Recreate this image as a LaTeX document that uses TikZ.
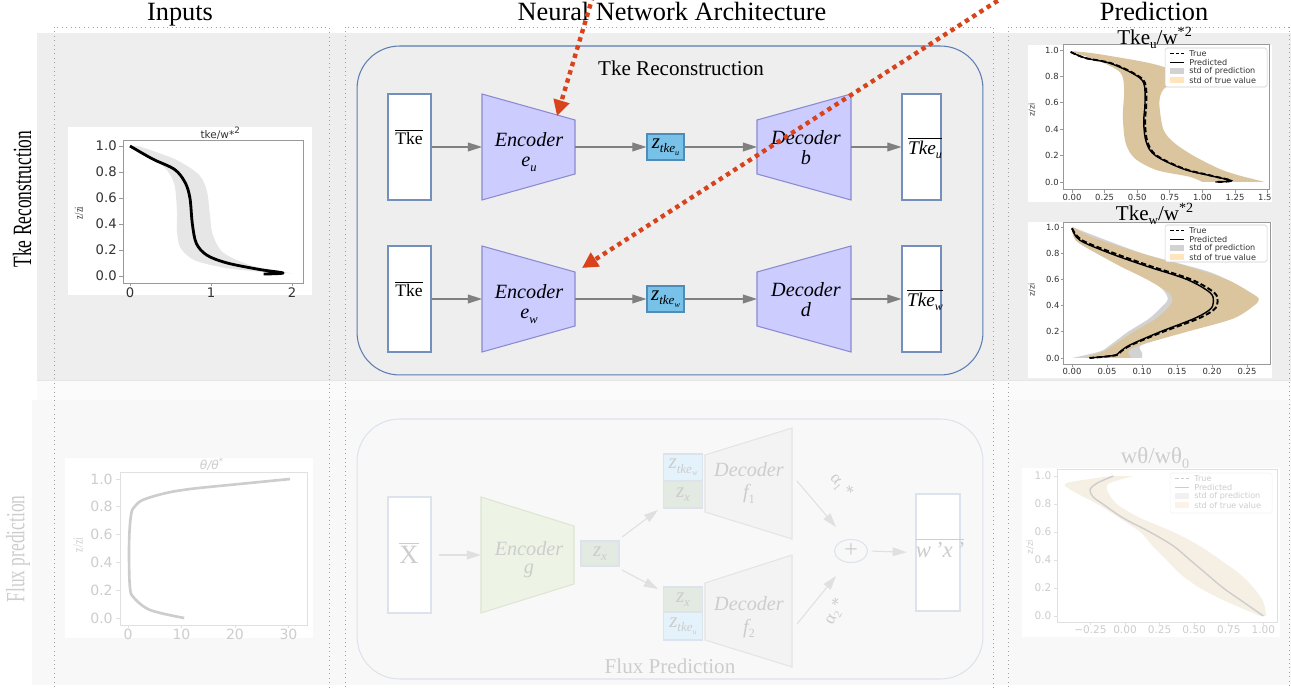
\documentclass[tikz,border=0pt]{standalone}
\usepackage{fontspec}
\setmainfont{Liberation Serif}
\newfontfamily\pf{DejaVu Sans}
\usetikzlibrary{arrows.meta,shapes.geometric}

\definecolor{bandgray}{HTML}{EEEEEE}
\definecolor{bandfaint}{HTML}{FBFBFB}
\definecolor{bandlite}{HTML}{F8F8F8}
\definecolor{colframe}{HTML}{A0A0A0}
\definecolor{rredge}{HTML}{5B7DB1}
\definecolor{encfill}{HTML}{CCCCFF}
\definecolor{encdraw}{HTML}{8A8AD0}
\definecolor{zfill}{HTML}{78C2EA}
\definecolor{zdraw}{HTML}{4F8DB8}
\definecolor{boxdraw}{HTML}{7390BD}
\definecolor{arrgray}{HTML}{808080}
\definecolor{redarr}{HTML}{D8431B}
\definecolor{fade}{HTML}{CDCDCD}
\definecolor{fadeline}{HTML}{E0E0E0}
\definecolor{fadeedge}{HTML}{DDE3EC}
\definecolor{fgreen}{HTML}{EDF3E5}
\definecolor{fgreenD}{HTML}{DCE6D3}
\definecolor{fzx}{HTML}{E3EAE1}
\definecolor{fzt}{HTML}{E4F2FB}
\definecolor{fdec}{HTML}{F3F3F3}
\definecolor{fdecD}{HTML}{E4E4E4}
\definecolor{tanband}{HTML}{DBC59E}
\definecolor{grayband}{HTML}{D2D2D2}
\definecolor{lightband}{HTML}{E6E6E6}
\definecolor{legtxt}{HTML}{333333}
\definecolor{legorange}{HTML}{FFE4BC}
\definecolor{legfgray}{HTML}{F1F1F1}
\definecolor{legforange}{HTML}{FCF3E6}
\definecolor{fband}{HTML}{F6EFE4}
\definecolor{axgray}{HTML}{999999}

\newcommand\lowsub[1]{\raisebox{-0.45ex}{\scalebox{0.62}{#1}}}
\newcommand\setfs[1]{\fontsize{#1}{#1}\selectfont}

% legend: x0 y0 x1 y1 linecolor textcolor graypatch orangepatch name
\newcommand\plotlegend[9]{%
  \draw[draw=#6!25, fill=white, line width=0.3pt, rounded corners=1pt] (#1,#2) rectangle (#3,#4);
  \draw[#5, line width=0.9pt, dash pattern=on 2pt off 1.2pt] (#1+5,#2+5.5) -- (#1+19,#2+5.5);
  \draw[#5, line width=0.7pt] (#1+5,#2+14.5) -- (#1+19,#2+14.5);
  \fill[#7] (#1+5,#2+20.5) rectangle (#1+19,#2+26.5);
  \fill[#8] (#1+5,#2+29.5) rectangle (#1+19,#2+35.5);
  \node[legtext, text=#6] (#9a) at (#1+24,#2+5.5) {True};
  \node[legtext, text=#6] (#9b) at (#1+24,#2+14.5) {Predicted};
  \node[legtext, text=#6] (#9c) at (#1+24,#2+23.5) {std of prediction};
  \node[legtext, text=#6] (#9d) at (#1+24,#2+32.5) {std of true value};
}

\begin{document}
\begin{tikzpicture}[x=0.02cm,y=-0.02cm,
  coltitle/.style={font=\setfs{15}, anchor=base, inner sep=0},
  rowlab/.style={font=\setfs{15}, rotate=90, inner sep=0},
  inbox/.style={draw=boxdraw, fill=white, line width=0.6pt, inner sep=0},
  encshape/.style={draw=encdraw, fill=encfill, line width=0.6pt},
  nnlab/.style={font=\setfs{11.5}\itshape, anchor=base, inner sep=0},
  seclab/.style={font=\setfs{12}, anchor=base, inner sep=0},
  zbox/.style={draw=zdraw, fill=zfill, line width=0.6pt, minimum width=0.74cm, minimum height=0.52cm, inner sep=0, font=\setfs{12}\itshape},
  arr/.style={draw=arrgray, line width=0.6pt, -{Triangle[length=8pt,width=5pt]}},
  farr/.style={draw=fadeline, line width=0.6pt, -{Triangle[length=8pt,width=5pt]}},
  redptr/.style={draw=redarr, line width=2.5pt, dash pattern=on 2.5pt off 2.4pt, -{Triangle[length=9pt,width=9pt]}},
  rrect/.style={line width=0.6pt, rounded corners=0.85cm, inner sep=0},
  fbox/.style={draw=fadeedge, line width=0.6pt, inner sep=0, text=fade, font=\setfs{12}\itshape, minimum width=0.78cm},
  fenc/.style={draw=fgreenD, fill=fgreen, line width=0.6pt},
  fdecs/.style={draw=fdecD, fill=fdec, line width=0.6pt},
  legtext/.style={font=\pf\setfs{4.6}, anchor=west, inner sep=0, text=legtxt},
  tick/.style={draw=axgray, line width=0.4pt},
  axframe/.style={draw=axgray, line width=0.5pt},
  ftick/.style={draw=fadeline, line width=0.4pt},
  faxframe/.style={draw=fadeline, line width=0.5pt}
]
\useasboundingbox (0,0) rectangle (1291,688);
\fill[white] (0,0) rectangle (1291,688);

% ---------- background bands ----------
\fill[bandgray] (37,33) rectangle (1291,380);
\fill[bandfaint] (37,380) rectangle (1291,400);
\fill[bandlite] (32,400) rectangle (1291,685);
\draw[lightband, line width=0.4pt] (37,380.5) -- (1291,380.5);

% ---------- column frames ----------
\draw[colframe, dotted, line width=0.5pt] (54,700) -- (54,27) -- (329,27) -- (329,700);
\draw[colframe, dotted, line width=0.5pt] (345,700) -- (345,27) -- (993,27) -- (993,700);
\draw[colframe, dotted, line width=0.5pt] (1008,700) -- (1008,27) -- (1289,27) -- (1289,700);

% ---------- titles ----------
\node[coltitle] (tInputs) at (180,21) {Inputs};
\node[coltitle] (tNN) at (672,21) {Neural Network Architecture};
\node[coltitle] (tPred) at (1154,21) {Prediction};
\node[rowlab] (rTke) at (22,199) {\scalebox{0.66}[1]{Tke Reconstruction}};
\node[rowlab, text=fade] (rFlux) at (18,549) {\scalebox{0.66}[1]{Flux prediction}};

% ---------- Tke reconstruction network ----------
\node[rrect, draw=rredge, minimum width=12.52cm, minimum height=6.58cm] (frameT) at (670,210.5) {};
\node[seclab] (lblT) at (681,76) {Tke Reconstruction};

\foreach \r/\dy/\s/\dec in {U/0/u/b, W/152/w/d}{
  \node[inbox, minimum width=0.86cm, minimum height=2.12cm] (in\r) at (409.5,147+\dy) {};
  \node[font=\setfs{10}, inner sep=0] (in\r-t) at (409,137+\dy) {$\overline{\hbox{Tke}}$};
  \draw[encshape] (482,94+\dy) -- (575,120+\dy) -- (575,174+\dy) -- (482,200+\dy) -- cycle;
  \coordinate (enc\r-w) at (482,147+\dy);
  \coordinate (enc\r-e) at (575,147+\dy);
  \node[nnlab] (enc\r-a) at (529,147+\dy) {Encoder};
  \node[nnlab] (enc\r-b) at (529,167+\dy) {e\lowsub{\s}};
  \node[zbox] (z\r) at (665.5,147+\dy) {z\lowsub{tke\lowsub{\s}}};
  \draw[encshape] (757,120+\dy) -- (851,94+\dy) -- (851,200+\dy) -- (757,174+\dy) -- cycle;
  \coordinate (dec\r-w) at (757,147+\dy);
  \coordinate (dec\r-e) at (851,147+\dy);
  \node[nnlab] (dec\r-a) at (806,145+\dy) {Decoder};
  \node[nnlab] (dec\r-b) at (806,165+\dy) {\dec};
  \node[inbox, minimum width=0.78cm, minimum height=2.12cm] (out\r) at (921.5,147+\dy) {};
  \node[font=\setfs{11}\itshape, inner sep=0] (out\r-t) at (925,148+\dy) {$\overline{\hbox{\itshape Tke\lowsub{\s}}}$};
  \draw[arr] (in\r.east) -- (enc\r-w);
  \draw[arr] (enc\r-e) -- (z\r.west);
  \draw[arr] (z\r.east) -- (dec\r-w);
  \draw[arr] (dec\r-e) -- (out\r.west);
}

% ---------- Flux prediction network (faded) ----------
\node[rrect, draw=fadeedge, minimum width=12.52cm, minimum height=5.2cm] (frameF) at (670,549) {};
\node[seclab, text=fade] (lblF) at (670,673) {Flux Prediction};
\node[inbox, draw=fadeedge, minimum width=0.86cm, minimum height=2.32cm] (inF) at (409.5,555) {};
\node[text=fade, font=\setfs{15}, inner sep=0] (inF-t) at (409,553) {$\overline{\hbox{X}}$};
\draw[fenc] (481,497) -- (574,526) -- (574,584) -- (481,613) -- cycle;
\coordinate (encF-w) at (481,555);
\node[nnlab, text=fade] (encF-a) at (529,556) {Encoder};
\node[nnlab, text=fade] (encF-b) at (529,574) {g};
\draw[farr, shorten <=4pt] (inF.east) -- (encF-w);
\node[fbox, fill=fzx, minimum width=0.76cm, minimum height=0.5cm] (zxF) at (600,553.5) {z\lowsub{x}};
\coordinate (fork1) at (622,537);
\coordinate (fork2) at (622,570);
\node[fbox, fill=fzt, minimum height=0.54cm] (ztw) at (683,467.5) {z\lowsub{tke\lowsub{w}}};
\node[fbox, fill=fzx, minimum height=0.54cm] (zx1) at (683,494.5) {z\lowsub{x}};
\node[fbox, fill=fzx, minimum height=0.5cm] (zx2) at (683,599.5) {z\lowsub{x}};
\node[fbox, fill=fzt, minimum height=0.56cm] (ztu) at (683,626) {z\lowsub{tke\lowsub{u}}};
\coordinate (tgt1) at (658,510);
\coordinate (tgt2) at (658,589);
\draw[farr] (fork1) -- (tgt1);
\draw[farr] (fork2) -- (tgt2);
\draw[fdecs] (705,455) -- (792,428) -- (792,539) -- (705,512) -- cycle;
\draw[fdecs] (705,583) -- (792,555) -- (792,667) -- (705,640) -- cycle;
\node[nnlab, text=fade] (f1-a) at (749,477) {Decoder};
\node[nnlab, text=fade] (f1-b) at (749,499) {f\lowsub{\upshape 1}};
\node[nnlab, text=fade] (f2-a) at (749,611) {Decoder};
\node[nnlab, text=fade] (f2-b) at (749,633) {f\lowsub{\upshape 2}};
\node[draw=fadeedge, line width=0.6pt, ellipse, minimum width=0.66cm, minimum height=0.46cm, inner sep=0, text=fade, font=\setfs{14}] (plus) at (851,551) {+};
\coordinate (f1o) at (797,481);
\coordinate (f2o) at (797,624);
\coordinate (p1) at (836,527);
\coordinate (p2) at (836,576);
\draw[farr] (f1o) -- (p1);
\draw[farr] (f2o) -- (p2);
\node[text=fade, rotate=-50, font=\setfs{10}, inner sep=0] (al1) at (841,486) {α\lowsub{1}\,*};
\node[text=fade, rotate=63, font=\setfs{10}, inner sep=0] (al2) at (835,612) {α\lowsub{2}\,*};
\node[fbox, fill=white, minimum width=0.88cm, minimum height=2.34cm] (outF) at (938,552.5) {};
\node[text=fade, font=\setfs{13}, inner sep=0] (outF-t) at (940,548) {$\overline{\hbox{\itshape w\,'x\,'}}$};
\draw[farr, shorten >=5pt, shorten <=2pt] (plus.east) -- (outF.west);

% ---------- Plot A : input tke ----------
\fill[white] (68,127) rectangle (312,295);
\begin{scope}[shift={(130,276)}, x=1.62cm, y=2.6cm]
  \fill[lightband] plot[smooth] coordinates {(0,1.0) (0.25,0.92) (0.45,0.82) (0.55,0.7) (0.58,0.5) (0.58,0.35) (0.62,0.22) (0.8,0.12) (1.2,0.06) (1.65,0.03)}
     -- plot[smooth] coordinates {(2.0,0.02) (1.5,0.08) (1.15,0.18) (1.02,0.32) (0.99,0.45) (0.95,0.65) (0.85,0.78) (0.55,0.9) (0.1,1.0)} -- cycle;
  \draw[black, line width=1.6pt, line join=round] plot[smooth, tension=0.55] coordinates {(0,1.0) (0.28,0.9) (0.55,0.82) (0.68,0.72) (0.74,0.6) (0.77,0.4) (0.82,0.25) (0.95,0.16) (1.2,0.1) (1.6,0.05) (1.89,0.023) (1.65,0.015)};
  \draw[axframe] (-0.086,-0.054) rectangle (2.14,1.046);
  \foreach \v in {0.0,0.2,0.4,0.6,0.8,1.0}{
    \draw[tick] (-0.086,\v) -- (-0.136,\v);
    \node[font=\pf\setfs{7.5}, anchor=east, inner sep=0, text=legtxt] (ayA\v) at (-0.16,\v) {\v};
  }
  \foreach \v in {0,1,2}{
    \draw[tick] (\v,-0.054) -- (\v,-0.08);
    \node[font=\pf\setfs{7.5}, anchor=north, inner sep=0, text=legtxt] (axA\v) at (\v,-0.085) {\v};
  }
  \node[font=\pf\setfs{6}, inner sep=0, text=legtxt] (ttlA) at (1.12,1.1) {tke/w*\textsuperscript{2}};
  \node[font=\setfs{7}, rotate=90, inner sep=0, text=legtxt] (ylA) at (-0.63,0.485) {\scalebox{0.7}[1]{z/zi}};
\end{scope}

% ---------- Plot B : prediction Tke_u ----------
\fill[white] (1028,45) rectangle (1272,202);
\begin{scope}[shift={(1072,182)}, x=2.608cm, y=2.64cm]
  \fill[tanband] plot[smooth] coordinates {(-0.02,0.99) (0.2,0.92) (0.37,0.83) (0.4,0.7) (0.39,0.5) (0.41,0.3) (0.48,0.18) (0.65,0.09) (0.9,0.04) (1.0,0.0)}
     -- plot[smooth] coordinates {(1.48,0.0) (1.28,0.05) (1.13,0.1) (0.93,0.2) (0.78,0.3) (0.7,0.4) (0.67,0.6) (0.7,0.7) (0.8,0.78) (0.78,0.84) (0.6,0.9) (0.2,0.97) (0.02,0.99)} -- cycle;
  \draw[black, line width=1.1pt, dash pattern=on 3pt off 1.5pt] plot[smooth, tension=0.55] coordinates {(-0.01,0.985) (0.1,0.94) (0.3,0.9) (0.48,0.82) (0.56,0.75) (0.57,0.6) (0.56,0.45) (0.58,0.3) (0.65,0.2) (0.86,0.1) (1.06,0.05) (1.22,0.01) (1.1,0.0)};
  \draw[black, line width=0.8pt] plot[smooth, tension=0.55] coordinates {(-0.01,0.985) (0.1,0.94) (0.29,0.9) (0.47,0.82) (0.55,0.75) (0.56,0.6) (0.55,0.45) (0.57,0.3) (0.64,0.2) (0.85,0.1) (1.05,0.05) (1.22,0.01) (1.1,0.0)};
  \draw[axframe] (-0.069,-0.06) rectangle (1.518,1.045);
  \foreach \v in {0.0,0.2,0.4,0.6,0.8,1.0}{
    \draw[tick] (-0.069,\v) -- (-0.089,\v);
    \node[font=\pf\setfs{4.8}, anchor=east, inner sep=0, text=legtxt] (ayB\v) at (-0.1,\v) {\v};
  }
  \begin{scope}
    \clip (-0.062,-0.3) rectangle (1.53,0);
    \foreach \v in {0.00,0.25,0.50,0.75,1.00,1.25,1.50}{
      \draw[tick] (\v,-0.06) -- (\v,-0.08);
      \node[font=\pf\setfs{4.8}, anchor=north, inner sep=0, text=legtxt] (axB\v) at (\v,-0.088) {\v};
    }
  \end{scope}
\end{scope}
\node[font=\pf\setfs{4.5}, rotate=90, inner sep=0, text=legtxt] (ylB) at (1032,110) {z/zi};
\node[font=\setfs{12}, inner sep=0] (ttlB) at (1155,38) {Tke\lowsub{u}/w\textsuperscript{*2}};
\plotlegend{1165}{48}{1267}{87}{black}{legtxt}{grayband}{legorange}{lgB}

% ---------- Plot C : prediction Tke_w ----------
\fill[white] (1028,222) rectangle (1272,378);
\begin{scope}[shift={(1072,358)}, x=14cm, y=2.62cm]
  \fill[grayband] plot[smooth] coordinates {(0.0,1.0) (0.005,0.9) (0.035,0.8) (0.075,0.7) (0.11,0.6) (0.13,0.52) (0.137,0.45) (0.13,0.4) (0.11,0.3) (0.08,0.2) (0.055,0.1) (0.04,0.05) (0.0,0.0)}
     -- plot[smooth] coordinates {(0.1,0.0) (0.1,0.04) (0.1,0.1) (0.16,0.2) (0.22,0.3) (0.25,0.4) (0.25,0.5) (0.2,0.65) (0.1,0.8) (0.005,0.99)} -- cycle;
  \fill[tanband] plot[smooth] coordinates {(0.0,1.0) (0.005,0.9) (0.035,0.8) (0.069,0.7) (0.107,0.6) (0.138,0.5) (0.143,0.45) (0.14,0.4) (0.12,0.3) (0.088,0.2) (0.06,0.1) (0.045,0.05) (0.016,0.0)}
     -- plot[smooth] coordinates {(0.085,0.0) (0.08,0.05) (0.098,0.1) (0.164,0.2) (0.23,0.3) (0.26,0.4) (0.267,0.45) (0.255,0.5) (0.221,0.6) (0.164,0.7) (0.098,0.8) (0.03,0.92) (0.005,0.99)} -- cycle;
  \draw[black, line width=1.1pt, dash pattern=on 3pt off 1.5pt] plot[smooth, tension=0.55] coordinates {(0.0,0.99) (0.014,0.9) (0.06,0.8) (0.113,0.7) (0.17,0.6) (0.203,0.5) (0.208,0.43) (0.203,0.37) (0.18,0.3) (0.13,0.2) (0.085,0.1) (0.07,0.05) (0.062,0.02) (0.025,0.0)};
  \draw[black, line width=0.8pt] plot[smooth, tension=0.55] coordinates {(0.0,0.99) (0.011,0.9) (0.054,0.8) (0.107,0.7) (0.164,0.6) (0.197,0.5) (0.202,0.43) (0.197,0.37) (0.174,0.3) (0.126,0.2) (0.083,0.1) (0.069,0.05) (0.06,0.02) (0.025,0.0)};
  \draw[axframe] (-0.0129,-0.046) rectangle (0.283,1.038);
  \foreach \v in {0.0,0.2,0.4,0.6,0.8,1.0}{
    \draw[tick] (-0.0129,\v) -- (-0.0159,\v);
    \node[font=\pf\setfs{4.8}, anchor=east, inner sep=0, text=legtxt] (ayC\v) at (-0.0175,\v) {\v};
  }
  \foreach \v in {0.00,0.05,0.10,0.15,0.20,0.25}{
    \draw[tick] (\v,-0.046) -- (\v,-0.066);
    \node[font=\pf\setfs{4.8}, anchor=north, inner sep=0, text=legtxt] (axC\v) at (\v,-0.072) {\v};
  }
\end{scope}
\node[font=\pf\setfs{4.5}, rotate=90, inner sep=0, text=legtxt] (ylC) at (1032,290) {z/zi};
\node[font=\setfs{12}, inner sep=0] (ttlC) at (1155,214) {Tke\lowsub{w}/w\textsuperscript{*2}};
\plotlegend{1165}{225}{1267}{262}{black}{legtxt}{grayband}{legorange}{lgC}

% ---------- Plot D : input theta (faded) ----------
\fill[white] (65,458) rectangle (313,638);
\begin{scope}[shift={(128,618)}, x=0.107cm, y=2.78cm]
  \draw[fade, line width=1.5pt] plot[smooth, tension=0.55] coordinates {(10.5,0.0) (4.1,0.058) (1.0,0.15) (0.37,0.22) (0.2,0.4) (0.25,0.6) (0.6,0.75) (1.2,0.8) (2.8,0.85) (7.2,0.9) (12,0.93) (19.7,0.96) (30.3,1.0)};
  \draw[faxframe] (-1.5,-0.05) rectangle (33.6,1.05);
  \foreach \v in {0.0,0.2,0.4,0.6,0.8,1.0}{
    \draw[ftick] (-1.5,\v) -- (-2.3,\v);
    \node[font=\pf\setfs{8}, anchor=east, inner sep=0, text=fade] (ayD\v) at (-2.8,\v) {\v};
  }
  \foreach \v in {0,10,20,30}{
    \draw[ftick] (\v,-0.05) -- (\v,-0.075);
    \node[font=\pf\setfs{8}, anchor=north, inner sep=0, text=fade] (axD\v) at (\v,-0.08) {\v};
  }
\end{scope}
\node[font=\pf\itshape\setfs{7}, inner sep=0, text=fade] (ttlD) at (212,464) {θ/θ\textsuperscript{*}};
\node[font=\setfs{8}, rotate=90, inner sep=0, text=fade] (ylD) at (78,545) {\scalebox{0.7}[1]{z/zi}};

% ---------- Plot E : output flux (faded) ----------
\fill[white] (1022,468) rectangle (1280,637);
\begin{scope}[shift={(1125,616)}, x=2.768cm, y=2.8cm]
  \fill[fband] plot[smooth] coordinates {(-0.1,1.0) (-0.42,0.95) (-0.39,0.9) (-0.2,0.8) (-0.04,0.7) (0.11,0.6) (0.2,0.5) (0.3,0.4) (0.4,0.3) (0.54,0.2) (0.74,0.1) (0.98,0.0)}
     -- plot[smooth] coordinates {(1.02,0.0) (1.0,0.1) (0.93,0.2) (0.83,0.3) (0.69,0.4) (0.54,0.5) (0.35,0.6) (0.11,0.7) (-0.06,0.8) (-0.13,0.9) (-0.11,0.95) (0.06,1.0)} -- cycle;
  \draw[fade, line width=0.8pt] plot[smooth, tension=0.55] coordinates {(-0.084,1.0) (-0.2,0.95) (-0.253,0.903) (-0.23,0.85) (-0.16,0.8) (-0.013,0.7) (0.18,0.6) (0.35,0.5) (0.47,0.4) (0.59,0.3) (0.71,0.2) (0.855,0.1) (1.0,0.0)};
  \draw[faxframe] (-0.491,-0.043) rectangle (1.098,1.05);
  \foreach \v in {0.0,0.2,0.4,0.6,0.8,1.0}{
    \draw[ftick] (-0.491,\v) -- (-0.515,\v);
    \node[font=\pf\setfs{6}, anchor=east, inner sep=0, text=fade] (ayE\v) at (-0.53,\v) {\v};
  }
  \foreach \v/\t in {-0.25/−0.25,0.00/0.00,0.25/0.25,0.50/0.50,0.75/0.75,1.00/1.00}{
    \draw[ftick] (\v,-0.043) -- (\v,-0.063);
    \node[font=\pf\setfs{6}, anchor=north, inner sep=0, text=fade] (axE\v) at (\v,-0.07) {\t};
  }
\end{scope}
\node[font=\pf\setfs{5}, rotate=90, inner sep=0, text=fade] (ylE) at (1030,547) {z/zi};
\node[font=\setfs{13}, inner sep=0, text=fade] (ttlE) at (1155,458) {wθ/wθ\lowsub{0}};
\plotlegend{1170}{473}{1272}{513}{fade}{fade}{legfgray}{legforange}{lgE}

% ---------- red pointer arrows ----------
\coordinate (redA) at (593,-4);
\coordinate (redAt) at (557,116);
\coordinate (redB) at (1005,-4);
\coordinate (redBt) at (582,268);
\draw[redptr] (redA) -- (redAt);
\draw[redptr] (redB) -- (redBt);
\end{tikzpicture}
\end{document}
